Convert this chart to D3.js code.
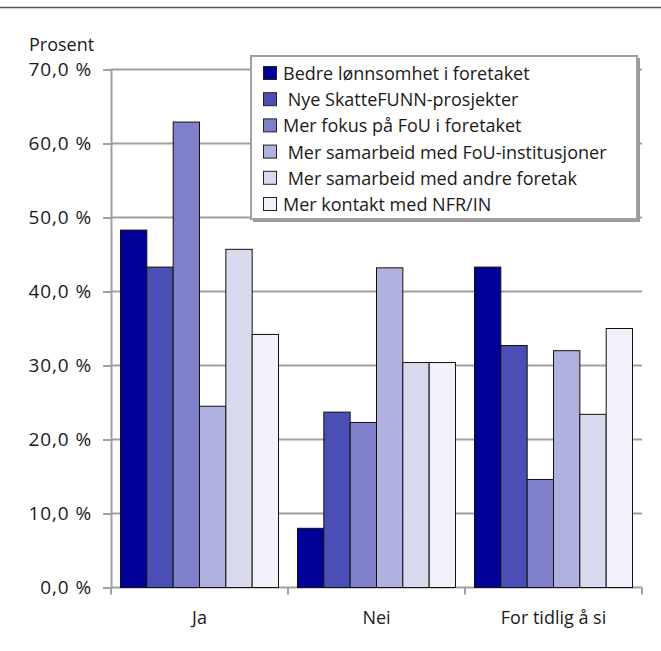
<!DOCTYPE html>
<html>
<head>
<meta charset="utf-8">
<script src="https://cdn.jsdelivr.net/npm/d3@7"></script>
<style>
  html, body { margin: 0; padding: 0; background: #fff; }
  svg { display: block; }
  text { font-family: "Open Sans", "Noto Sans", sans-serif; fill: #1a1a1a; }
</style>
</head>
<body>
<svg id="chart" width="661" height="651"></svg>
<script>
const categories = ["Ja", "Nei", "For tidlig å si"];
const seriesNames = [
  "Bedre lønnsomhet i foretaket",
  " Nye SkatteFUNN-prosjekter",
  "Mer fokus på FoU i foretaket",
  " Mer samarbeid med FoU-institusjoner",
  " Mer samarbeid med andre foretak",
  "Mer kontakt med NFR/IN"
];
const bedre = [48.3, 8.0, 43.3];
const nye = [43.3, 23.7, 32.7];
const fokus = [62.9, 22.3, 14.6];
const samFoU = [24.5, 43.2, 32.0];
const samForetak = [45.7, 30.4, 23.4];
const kontakt = [34.2, 30.4, 35.0];
const seriesValues = [bedre, nye, fokus, samFoU, samForetak, kontakt];
const colors = ["#000099", "#4B4FB5", "#8080CA", "#B0B1DF", "#D9DAEE", "#F1F1FA"];
const yTicks = [0, 10, 20, 30, 40, 50, 60, 70];

const svg = d3.select("#chart");
const margin = { left: 111, right: 19, top: 69.5, bottom: 63.5 };
const W = 661, H = 651;
const x0 = margin.left, x1 = W - margin.right;
const yTop = margin.top, yBot = H - margin.bottom;
const FONT = "18px";

// top rule
svg.append("line").attr("x1", 0).attr("x2", W).attr("y1", 7.5).attr("y2", 7.5)
  .attr("stroke", "#555").attr("stroke-width", 1.5);

const x = d3.scaleBand().domain(categories).range([x0, x1]).paddingInner(0).paddingOuter(0);
const xs = d3.scaleBand().domain(d3.range(seriesNames.length))
  .range([0, x.bandwidth()]).paddingOuter(0.36).paddingInner(0);
const y = d3.scaleLinear().domain([0, 70]).range([yBot, yTop]);

// gridlines
svg.append("g").selectAll("line").data(yTicks.filter(d => d > 0)).join("line")
  .attr("x1", x0).attr("x2", x1)
  .attr("y1", d => y(d)).attr("y2", d => y(d))
  .attr("stroke", "#a0a0a0").attr("stroke-width", 2);

// y axis
const yAxis = d3.axisLeft(y).tickValues(yTicks).tickSize(8).tickPadding(11)
  .tickFormat(d => d3.format(".1f")(d).replace(".", ",") + " %");
const gy = svg.append("g").attr("transform", `translate(${x0},0)`).call(yAxis);
gy.select(".domain").attr("stroke", "#a0a0a0").attr("stroke-width", 2);
gy.selectAll(".tick line").attr("stroke", "#a0a0a0").attr("stroke-width", 2);
gy.selectAll(".tick text").style("font-size", "19px").style("letter-spacing", "0.9px")
  .attr("fill", "#1a1a1a").style("font-family", '"Open Sans", sans-serif');

// x axis
const xAxis = d3.axisBottom(x).tickSize(0).tickPadding(24);
const gx = svg.append("g").attr("transform", `translate(0,${yBot})`).call(xAxis);
gx.select(".domain").remove();
gx.selectAll(".tick text").style("font-size", FONT).attr("fill", "#1a1a1a")
  .style("font-family", '"Open Sans", sans-serif');
svg.append("line").attr("x1", x0).attr("x2", x1).attr("y1", yBot).attr("y2", yBot)
  .attr("stroke", "#a0a0a0").attr("stroke-width", 2);
// category boundary ticks
const bounds = categories.map(c => x(c)).concat([x1]);
svg.append("g").selectAll("line").data(bounds).join("line")
  .attr("x1", d => d).attr("x2", d => d).attr("y1", yBot).attr("y2", yBot + 7)
  .attr("stroke", "#a0a0a0").attr("stroke-width", 2);

// bars
const groups = svg.append("g").selectAll("g").data(categories).join("g")
  .attr("transform", c => `translate(${x(c)},0)`);
groups.selectAll("rect").data((c, ci) => seriesValues.map((vals, si) => ({ si, v: vals[ci] })))
  .join("rect")
  .attr("x", d => xs(d.si))
  .attr("width", xs.bandwidth())
  .attr("y", d => y(d.v))
  .attr("height", d => yBot - y(d.v))
  .attr("fill", d => colors[d.si])
  .attr("stroke", "#111").attr("stroke-width", 1);

// y title
svg.append("text").attr("x", 29).attr("y", 51).style("font-size", FONT).text("Prosent");

// legend
const lg = svg.append("g").attr("transform", "translate(251,56)");
lg.append("rect").attr("x", 2).attr("y", 2).attr("width", 387).attr("height", 164)
  .attr("fill", "#999");
lg.append("rect").attr("x", 0).attr("y", 0).attr("width", 386).attr("height", 163)
  .attr("fill", "#fff").attr("stroke", "#a0a0a0").attr("stroke-width", 2);
const items = lg.selectAll("g.item").data(seriesNames).join("g").attr("class", "item")
  .attr("transform", (d, i) => `translate(12,${10 + i * 26.2})`);
items.append("rect").attr("x", 0.5).attr("y", 0.5).attr("width", 13).attr("height", 13)
  .attr("fill", (d, i) => colors[i]).attr("stroke", "#222").attr("stroke-width", 1);
items.append("text").attr("x", 20).attr("y", 14)
  .style("font-size", FONT).style("white-space", "pre").text(d => d);
</script>
</body>
</html>
